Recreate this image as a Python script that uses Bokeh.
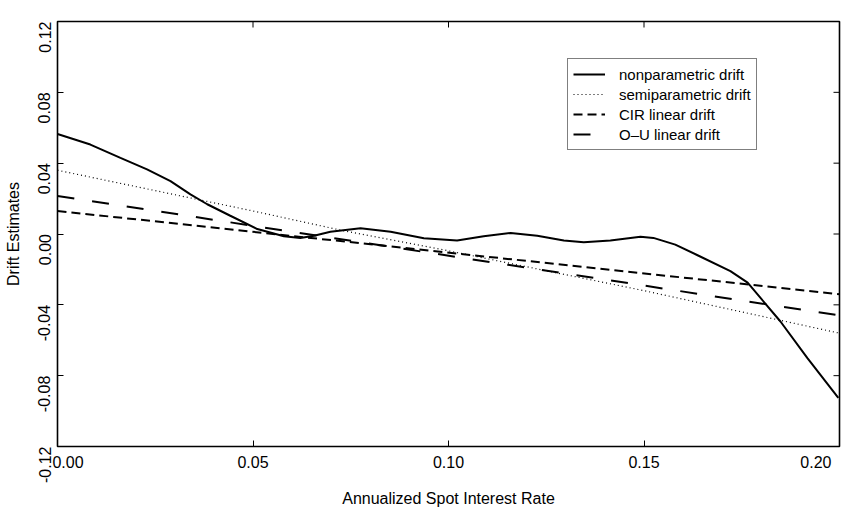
import math
from bokeh.plotting import figure
from bokeh.models import Range1d, FixedTicker, Legend, LegendItem, NumeralTickFormatter
from bokeh.embed import file_html
from bokeh.resources import INLINE

# ---- data ----
np_x = [0.0, 0.0084, 0.0161, 0.0229, 0.0289, 0.0340, 0.0383, 0.0442, 0.0511, 0.0579,
        0.0621, 0.0656, 0.0698, 0.0775, 0.0852, 0.0937, 0.1022, 0.1090, 0.1159, 0.1227,
        0.1295, 0.1346, 0.1414, 0.1491, 0.1524, 0.1580, 0.1637, 0.1721, 0.1765, 0.1849,
        0.1918, 0.1997]
np_y = [0.0565, 0.0505, 0.0430, 0.0365, 0.0299, 0.0224, 0.0168, 0.0103, 0.0028, -0.0013,
        -0.0022, -0.0010, 0.0013, 0.0032, 0.0013, -0.0024, -0.0037, -0.0013, 0.0006, -0.0010,
        -0.0037, -0.0047, -0.0037, -0.0015, -0.0022, -0.0060, -0.0120, -0.0210, -0.0275, -0.0494,
        -0.0701, -0.0926]

semi_x = [0.0, 0.05, 0.0724, 0.10, 0.15, 0.20]
semi_y = [0.0360, 0.0130, 0.0022, -0.0095, -0.0320, -0.0560]

cir_x = [0.0, 0.20]
cir_y = [0.0130, -0.0340]

ou_x = [0.0, 0.20]
ou_y = [0.0215, -0.0460]

x_ticks = [0.0, 0.05, 0.10, 0.15, 0.20]
x_tick_labels = ["0.00", "0.05", "0.10", "0.15", "0.20"]
y_ticks = [-0.12, -0.08, -0.04, 0.0, 0.04, 0.08, 0.12]

FONT = "Liberation Sans"
PAD_L = "\u2007\u2007\u2009"   # spacing that pushes the end labels inward
PAD_R = "\u2007\u2007\u2009"

p = figure(width=852, height=509, output_backend="svg", toolbar_location=None,
           x_range=Range1d(x_ticks[0], x_ticks[-1]), y_range=Range1d(y_ticks[0], y_ticks[-1]),
           min_border_left=57, min_border_right=13, min_border_top=21, min_border_bottom=60)
p.grid.visible = False
p.outline_line_color = "black"
p.outline_line_width = 1.6
p.background_fill_color = "white"
p.border_fill_color = "white"

fmt = NumeralTickFormatter(format="0.00")

def style_axis(ax):
    ax.axis_line_color = None
    ax.major_tick_in = 6
    ax.major_tick_out = 0
    ax.minor_tick_line_color = None
    ax.major_tick_line_color = "black"
    ax.major_tick_line_width = 1
    ax.major_label_text_font = FONT
    ax.major_label_text_font_size = "16px"
    ax.major_label_text_color = "black"
    ax.axis_label_text_font = FONT
    ax.axis_label_text_font_size = "16px"
    ax.axis_label_text_font_style = "normal"
    ax.axis_label_text_color = "black"

xa = p.xaxis[0]
xa.ticker = FixedTicker(ticks=x_ticks)
xa.formatter = fmt
xa.major_label_overrides = {x_ticks[0]: PAD_L + x_tick_labels[0],
                            x_ticks[-1]: x_tick_labels[-1] + PAD_R}
xa.axis_label = "Annualized Spot Interest Rate"
style_axis(xa)
xa.major_label_standoff = 7
xa.axis_label_standoff = 16

ya = p.yaxis[0]
ya.ticker = FixedTicker(ticks=y_ticks)
ya.formatter = fmt
ya.axis_label = "Drift Estimates"
ya.major_label_orientation = math.pi / 2
style_axis(ya)
ya.major_label_standoff = 13
ya.axis_label_standoff = 8

# inward ticks on the top and right edges
p.scatter(x_ticks, [y_ticks[-1]] * len(x_ticks), marker="dash", angle=math.pi / 2,
          size=12, line_color="black", line_width=1)
p.scatter([x_ticks[-1]] * len(y_ticks), y_ticks, marker="dash",
          size=12, line_color="black", line_width=1)

r_np = p.line(np_x, np_y, line_color="black", line_width=2)
r_semi = p.line(semi_x, semi_y, line_color="black", line_width=1.2, line_dash="1 3")
r_cir = p.line(cir_x, cir_y, line_color="black", line_width=2, line_dash="9 5")
r_ou = p.line(ou_x, ou_y, line_color="black", line_width=2, line_dash="17 18")

legend = Legend(items=[
    LegendItem(label="nonparametric drift", renderers=[r_np]),
    LegendItem(label="semiparametric drift", renderers=[r_semi]),
    LegendItem(label="CIR linear drift", renderers=[r_cir]),
    LegendItem(label="O\u2013U linear drift", renderers=[r_ou]),
], location=(510, 296))
legend.border_line_color = "black"
legend.border_line_width = 1.6
legend.background_fill_color = "white"
legend.background_fill_alpha = 1
legend.label_text_font = FONT
legend.label_text_font_size = "15px"
legend.label_text_color = "black"
legend.glyph_width = 32
legend.glyph_height = 20
legend.label_height = 20
legend.spacing = 0
legend.padding = 5
legend.label_standoff = 14
legend.margin = 0
p.add_layout(legend, "center")

open("out.html", "w").write(file_html(p, INLINE))
